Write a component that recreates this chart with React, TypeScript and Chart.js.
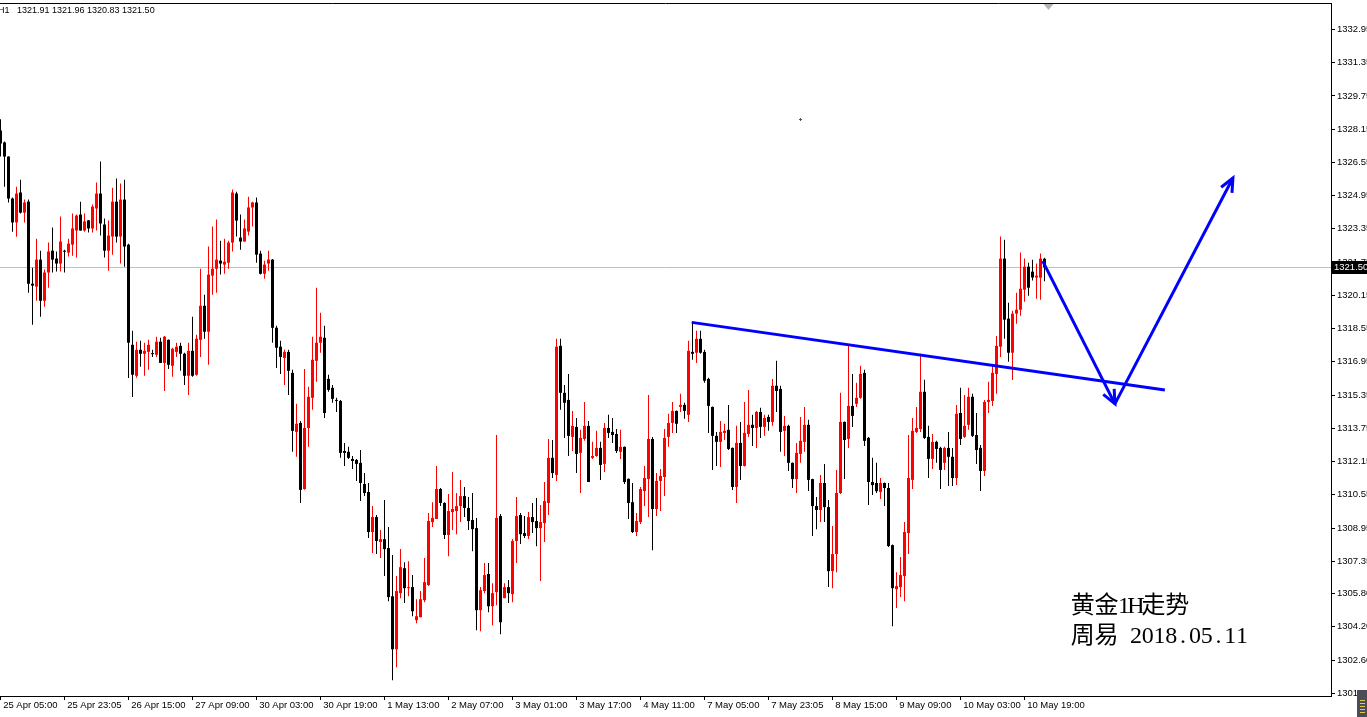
import React, { useEffect, useRef } from 'react';
import { Chart, registerables } from 'chart.js';

Chart.register(...registerables);

// ---- OHLC data (XAUUSD H1), bar index 0 .. 261 ----
const opens = [
  1328.08, 1327.51, 1326.83, 1324.81, 1323.66, 1325.10, 1324.13, 1324.66, 1320.71, 1320.57,
  1321.87, 1319.89, 1321.25, 1322.30, 1321.92, 1321.68, 1322.27, 1322.21, 1322.59, 1323.27,
  1324.04, 1323.27, 1323.76, 1323.37, 1324.33, 1325.05, 1323.56, 1322.30, 1322.98, 1324.66,
  1322.98, 1324.76, 1322.59, 1317.77, 1316.28, 1317.53, 1317.34, 1317.43, 1317.34, 1317.29,
  1317.92, 1316.90, 1318.01, 1316.76, 1317.43, 1317.72, 1317.34, 1316.28, 1317.48, 1316.33,
  1318.01, 1319.65, 1318.40, 1321.10, 1321.43, 1321.82, 1321.63, 1321.72, 1322.69, 1325.05,
  1322.93, 1322.74, 1323.22, 1324.38, 1324.62, 1322.16, 1321.19, 1321.68, 1321.87, 1318.59,
  1317.68, 1317.14, 1317.43, 1316.42, 1313.58, 1314.01, 1310.83, 1313.77, 1315.22, 1317.00,
  1317.87, 1318.11, 1316.13, 1315.70, 1315.12, 1315.07, 1312.66, 1312.62, 1312.28, 1312.23,
  1312.09, 1311.07, 1310.69, 1308.76, 1309.48, 1308.28, 1308.42, 1307.99, 1305.67, 1303.12,
  1305.82, 1307.02, 1306.06, 1306.11, 1304.52, 1304.66, 1305.48, 1306.21, 1309.24, 1309.39,
  1310.83, 1310.16, 1308.62, 1309.72, 1309.77, 1310.01, 1310.49, 1309.92, 1309.34, 1308.95,
  1305.00, 1305.92, 1306.74, 1305.19, 1305.87, 1309.53, 1305.58, 1306.11, 1305.77, 1308.33,
  1309.58, 1308.71, 1308.57, 1309.48, 1309.29, 1308.95, 1309.19, 1310.16, 1312.33, 1311.51,
  1317.72, 1315.46, 1315.12, 1313.34, 1313.82, 1312.57, 1313.24, 1313.87, 1312.33, 1312.42,
  1312.81, 1312.04, 1313.77, 1313.58, 1313.48, 1312.62, 1312.86, 1311.32, 1310.20, 1308.76,
  1309.24, 1310.73, 1311.31, 1313.24, 1309.87, 1311.22, 1311.41, 1313.34, 1314.01, 1314.59,
  1314.78, 1314.88, 1314.40, 1317.43, 1317.39, 1318.06, 1317.43, 1316.13, 1314.78, 1313.39,
  1313.10, 1313.53, 1313.68, 1312.81, 1310.93, 1313.05, 1311.94, 1313.48, 1313.92, 1313.77,
  1314.54, 1313.82, 1314.30, 1314.06, 1315.80, 1315.65, 1313.63, 1313.87, 1312.09, 1311.31,
  1312.52, 1313.10, 1313.92, 1311.31, 1310.01, 1309.82, 1311.12, 1309.96, 1306.88, 1307.70,
  1310.64, 1314.06, 1313.24, 1314.83, 1314.93, 1315.22, 1316.42, 1313.29, 1311.17, 1311.12,
  1310.69, 1311.12, 1310.88, 1308.13, 1306.01, 1306.11, 1306.64, 1308.71, 1311.27, 1313.58,
  1313.72, 1315.51, 1313.34, 1312.28, 1313.10, 1312.81, 1312.09, 1312.81, 1312.38, 1311.36,
  1314.49, 1313.34, 1313.92, 1315.27, 1313.43, 1312.81, 1311.70, 1315.02, 1315.07, 1316.37,
  1317.68, 1321.92, 1319.03, 1317.39, 1319.27, 1319.46, 1320.42, 1321.53, 1321.29, 1321.01,
  1321.00, 1321.91,
];

const highs = [
  1328.62, 1327.55, 1326.85, 1324.86, 1325.38, 1325.72, 1324.76, 1324.76, 1321.48, 1322.88,
  1322.30, 1321.39, 1322.69, 1323.42, 1322.26, 1323.94, 1322.35, 1322.88, 1324.09, 1324.04,
  1324.66, 1324.09, 1323.78, 1324.52, 1325.58, 1326.59, 1323.85, 1323.75, 1325.33, 1325.77,
  1325.53, 1325.72, 1322.64, 1318.45, 1317.92, 1317.97, 1317.87, 1318.01, 1317.53, 1318.16,
  1318.11, 1318.20, 1318.03, 1317.63, 1317.87, 1317.87, 1317.39, 1317.87, 1319.12, 1318.25,
  1321.43, 1320.18, 1322.50, 1323.46, 1323.80, 1322.78, 1322.88, 1322.78, 1325.24, 1325.14,
  1324.04, 1323.80, 1324.90, 1324.66, 1324.86, 1322.30, 1321.82, 1322.30, 1321.90, 1318.69,
  1317.97, 1317.53, 1317.53, 1316.57, 1314.93, 1314.11, 1316.61, 1315.75, 1318.16, 1320.52,
  1319.31, 1318.69, 1316.33, 1315.84, 1315.22, 1315.12, 1313.05, 1312.86, 1312.42, 1312.28,
  1312.71, 1311.60, 1311.12, 1310.01, 1309.58, 1308.86, 1310.30, 1309.00, 1307.65, 1306.64,
  1307.94, 1307.31, 1307.36, 1306.69, 1305.53, 1305.92, 1307.51, 1309.68, 1310.20, 1311.94,
  1310.88, 1310.20, 1310.59, 1311.65, 1310.64, 1311.27, 1310.93, 1310.45, 1310.64, 1309.44,
  1306.11, 1307.27, 1307.27, 1306.30, 1313.43, 1309.63, 1306.30, 1306.45, 1308.42, 1310.45,
  1309.68, 1309.53, 1309.72, 1310.16, 1310.40, 1310.06, 1311.17, 1313.24, 1313.19, 1318.06,
  1318.06, 1315.84, 1316.37, 1314.59, 1314.25, 1313.68, 1315.02, 1314.11, 1313.10, 1313.63,
  1313.10, 1314.01, 1314.40, 1314.25, 1313.72, 1313.68, 1312.88, 1311.34, 1311.12, 1309.68,
  1310.93, 1311.94, 1315.36, 1313.34, 1311.60, 1311.80, 1313.72, 1314.45, 1315.02, 1314.61,
  1315.41, 1314.98, 1317.97, 1318.88, 1318.45, 1318.45, 1317.53, 1316.18, 1314.80, 1313.58,
  1314.11, 1313.97, 1314.88, 1312.83, 1313.87, 1314.06, 1315.02, 1315.60, 1314.40, 1314.59,
  1314.74, 1314.40, 1314.40, 1316.13, 1317.00, 1315.80, 1314.35, 1313.92, 1312.11, 1313.05,
  1314.30, 1314.78, 1314.16, 1311.33, 1310.45, 1311.51, 1312.04, 1310.30, 1309.05, 1311.75,
  1315.46, 1314.08, 1317.77, 1316.37, 1315.94, 1316.76, 1316.57, 1313.34, 1312.33, 1312.09,
  1311.36, 1311.14, 1311.12, 1308.16, 1306.83, 1307.56, 1309.24, 1313.43, 1314.25, 1314.78,
  1317.34, 1316.09, 1313.87, 1313.48, 1313.15, 1312.86, 1312.86, 1313.58, 1312.81, 1314.88,
  1315.70, 1315.36, 1315.70, 1315.41, 1314.49, 1312.95, 1315.12, 1315.99, 1316.81, 1318.20,
  1322.98, 1322.83, 1319.80, 1319.41, 1320.28, 1322.21, 1321.92, 1321.72, 1321.87, 1321.68,
  1322.16, 1321.96,
];

const lows = [
  1326.83, 1325.38, 1324.62, 1323.21, 1322.97, 1324.09, 1323.66, 1320.28, 1318.74, 1319.89,
  1319.12, 1319.60, 1320.52, 1321.25, 1321.30, 1321.30, 1321.25, 1322.02, 1322.06, 1321.97,
  1323.27, 1323.21, 1323.17, 1323.17, 1323.27, 1323.03, 1321.97, 1321.34, 1322.11, 1322.69,
  1321.68, 1321.53, 1316.17, 1315.26, 1316.18, 1316.71, 1316.28, 1316.57, 1317.19, 1317.19,
  1316.90, 1315.55, 1316.61, 1316.23, 1317.19, 1316.52, 1315.84, 1315.36, 1316.23, 1316.28,
  1317.19, 1318.06, 1316.81, 1320.18, 1320.28, 1321.15, 1321.19, 1321.43, 1322.26, 1322.98,
  1322.35, 1322.74, 1323.03, 1323.46, 1321.72, 1321.15, 1320.95, 1321.34, 1317.87, 1316.66,
  1316.37, 1315.84, 1315.36, 1312.62, 1312.38, 1310.16, 1310.79, 1312.86, 1314.64, 1315.99,
  1317.39, 1314.25, 1315.51, 1314.98, 1314.54, 1312.33, 1311.94, 1312.28, 1311.80, 1311.22,
  1310.25, 1310.49, 1308.47, 1307.75, 1307.70, 1307.51, 1306.64, 1305.43, 1301.63, 1302.25,
  1305.58, 1305.34, 1305.67, 1304.71, 1304.37, 1304.66, 1305.38, 1306.16, 1309.00, 1309.39,
  1310.01, 1308.42, 1307.60, 1308.86, 1308.66, 1309.24, 1309.48, 1308.86, 1307.84, 1304.04,
  1303.99, 1305.82, 1304.90, 1304.28, 1305.24, 1303.84, 1305.58, 1305.34, 1305.38, 1307.27,
  1308.18, 1308.47, 1308.42, 1308.71, 1308.08, 1306.40, 1308.28, 1309.58, 1311.36, 1311.22,
  1314.64, 1313.29, 1312.42, 1312.66, 1311.60, 1310.64, 1313.15, 1311.17, 1312.28, 1312.38,
  1311.27, 1311.65, 1313.29, 1313.05, 1312.57, 1312.28, 1311.07, 1309.39, 1308.71, 1308.57,
  1309.15, 1310.01, 1309.48, 1307.89, 1309.53, 1309.77, 1310.49, 1312.86, 1313.53, 1313.53,
  1314.54, 1314.21, 1314.06, 1317.05, 1316.90, 1317.34, 1315.94, 1313.53, 1311.75, 1311.94,
  1311.89, 1313.19, 1312.71, 1310.78, 1310.16, 1311.27, 1311.92, 1313.34, 1312.90, 1312.81,
  1313.29, 1313.39, 1313.63, 1313.87, 1314.54, 1312.62, 1312.42, 1311.70, 1310.88, 1310.64,
  1312.09, 1312.62, 1310.73, 1308.57, 1308.90, 1309.24, 1309.24, 1306.11, 1306.06, 1306.83,
  1310.59, 1311.31, 1312.81, 1313.82, 1314.78, 1315.17, 1312.90, 1310.06, 1310.54, 1310.64,
  1310.35, 1310.01, 1308.04, 1304.23, 1305.10, 1305.63, 1305.43, 1307.70, 1310.83, 1313.53,
  1313.58, 1313.24, 1311.36, 1311.80, 1312.09, 1310.83, 1311.75, 1310.98, 1310.98, 1311.02,
  1312.95, 1313.29, 1313.68, 1313.34, 1312.04, 1310.73, 1311.46, 1314.49, 1314.83, 1315.41,
  1317.19, 1318.06, 1316.95, 1316.08, 1318.78, 1319.17, 1319.84, 1320.13, 1320.86, 1319.99,
  1319.94, 1320.83,
];

const closes = [
  1327.46, 1326.83, 1324.81, 1323.66, 1325.05, 1324.13, 1324.62, 1320.71, 1320.62, 1321.87,
  1319.89, 1321.25, 1322.26, 1321.87, 1321.68, 1322.74, 1322.25, 1322.64, 1323.37, 1323.99,
  1323.27, 1323.71, 1323.37, 1324.42, 1325.05, 1323.61, 1322.30, 1323.03, 1324.66, 1322.98,
  1324.76, 1322.50, 1317.87, 1316.33, 1317.53, 1317.34, 1317.48, 1317.77, 1317.32, 1317.92,
  1316.90, 1318.16, 1316.81, 1317.58, 1317.68, 1317.34, 1316.28, 1317.48, 1316.28, 1318.06,
  1319.65, 1318.40, 1321.15, 1321.43, 1321.87, 1321.68, 1321.77, 1322.69, 1325.10, 1323.75,
  1322.74, 1323.37, 1324.38, 1324.62, 1322.11, 1321.19, 1321.63, 1321.87, 1318.59, 1317.63,
  1317.19, 1317.43, 1316.52, 1313.63, 1313.97, 1310.79, 1313.77, 1315.27, 1317.05, 1317.87,
  1318.16, 1314.49, 1315.60, 1315.17, 1315.07, 1312.57, 1312.57, 1312.33, 1312.18, 1312.04,
  1311.12, 1310.64, 1308.76, 1309.48, 1308.33, 1308.42, 1307.94, 1305.63, 1303.12, 1305.92,
  1307.07, 1306.06, 1306.11, 1304.95, 1304.71, 1305.53, 1306.35, 1309.29, 1309.44, 1310.83,
  1310.16, 1308.62, 1309.77, 1309.87, 1310.01, 1310.49, 1309.92, 1309.29, 1308.90, 1305.00,
  1305.96, 1306.69, 1305.19, 1305.82, 1309.44, 1304.42, 1306.11, 1305.82, 1308.33, 1309.53,
  1308.66, 1308.57, 1309.48, 1309.24, 1308.95, 1309.24, 1310.25, 1312.33, 1311.60, 1317.68,
  1315.46, 1314.98, 1313.39, 1313.87, 1312.52, 1313.29, 1313.87, 1311.17, 1312.42, 1312.81,
  1311.99, 1313.77, 1313.53, 1313.43, 1312.66, 1312.86, 1311.17, 1310.16, 1308.76, 1309.29,
  1310.83, 1311.36, 1313.24, 1309.87, 1311.22, 1311.46, 1313.29, 1314.01, 1314.59, 1313.97,
  1314.88, 1314.59, 1317.48, 1317.34, 1318.06, 1317.39, 1316.04, 1314.83, 1313.39, 1313.10,
  1313.58, 1313.63, 1312.76, 1310.93, 1313.05, 1311.94, 1313.53, 1313.92, 1313.77, 1314.54,
  1313.82, 1314.25, 1314.06, 1315.80, 1315.55, 1313.58, 1313.87, 1312.09, 1311.31, 1312.57,
  1313.15, 1313.92, 1311.27, 1310.01, 1309.82, 1311.12, 1309.96, 1306.88, 1307.70, 1310.64,
  1314.06, 1313.19, 1314.83, 1314.35, 1315.22, 1316.37, 1313.15, 1311.17, 1311.02, 1310.73,
  1311.12, 1310.88, 1308.09, 1306.06, 1306.16, 1306.69, 1308.76, 1311.36, 1313.63, 1313.77,
  1315.51, 1313.29, 1312.28, 1313.10, 1312.76, 1311.75, 1312.81, 1312.38, 1311.36, 1314.45,
  1313.24, 1313.87, 1315.27, 1313.39, 1312.71, 1311.70, 1315.02, 1315.12, 1316.42, 1317.72,
  1321.92, 1318.98, 1317.39, 1319.27, 1319.46, 1320.47, 1321.53, 1320.52, 1321.01, 1321.10,
  1321.92, 1321.50,
];

// ---- axis labels ----
const timeLabels = [
  '25 Apr 05:00', '25 Apr 23:05', '26 Apr 15:00', '27 Apr 09:00', '30 Apr 03:00', '30 Apr 19:00',
  '1 May 13:00', '2 May 07:00', '3 May 01:00', '3 May 17:00', '4 May 11:00', '7 May 05:00',
  '7 May 23:05', '8 May 15:00', '9 May 09:00', '10 May 03:00', '10 May 19:00',
];
const timeLabelBars = [0, 16, 32, 48, 64, 80, 96, 112, 128, 144, 160, 176, 192, 208, 224, 240, 256];

const priceTicks = [
  1332.95, 1331.35, 1329.75, 1328.15, 1326.55, 1324.95, 1323.35, 1321.75, 1320.15, 1318.55,
  1316.95, 1315.35, 1313.75, 1312.15, 1310.55, 1308.95, 1307.35, 1305.80, 1304.20, 1302.60, 1301.00,
];
const priceTickLabels = [
  '1332.95', '1331.35', '1329.75', '1328.15', '1326.55', '1324.95', '1323.35', '1321.75', '1320.15', '1318.55',
  '1316.95', '1315.35', '1313.75', '1312.15', '1310.55', '1308.95', '1307.35', '1305.80', '1304.20', '1302.60', '1301.00',
];

const bidPrice = 1321.5;
const bidLabel = '1321.50';
const headerSymbol = 'H1';
const headerValues = '1321.91 1321.96 1320.83 1321.50';
const noteLine1 = '黄金1H走势';
const noteLine2 = '周易 2018.05.11';

// drawn objects in (bar index, price)
const trendLine = [[172.8, 1318.85], [291.1, 1315.6]];
const arrowPath = [[260.55, 1321.8], [278.6, 1314.93], [308.1, 1325.8]];
const dotMark = [199.9, 1328.64];
const shiftMarkBar = 262;

const UP = '#ff0000';
const DOWN = '#000000';

function arrowHead(ctx: CanvasRenderingContext2D, fx: number, fy: number, tx: number, ty: number) {
  const a = Math.atan2(ty - fy, tx - fx);
  const len = 15;
  const ang = 0.42;
  ctx.beginPath();
  ctx.moveTo(tx - len * Math.cos(a - ang), ty - len * Math.sin(a - ang));
  ctx.lineTo(tx, ty);
  ctx.lineTo(tx - len * Math.cos(a + ang), ty - len * Math.sin(a + ang));
  ctx.stroke();
}

// SimSun-like cell layout: full-width cells for CJK, half-width cells for ASCII
function drawCellText(ctx: CanvasRenderingContext2D, text: string, x: number, y: number, size: number) {
  let cx = x;
  ctx.textAlign = 'center';
  for (const ch of Array.from(text)) {
    const wide = ch.charCodeAt(0) > 0x2e7f;
    const adv = wide ? size : size / 2;
    if (ch !== ' ') ctx.fillText(ch, cx + adv / 2, y);
    cx += adv;
  }
  ctx.textAlign = 'left';
}

const overlayPlugin = {
  id: 'mtOverlay',
  beforeDatasetsDraw(chart: any) {
    const { ctx, chartArea, scales } = chart;
    const py = Math.round(scales.y.getPixelForValue(bidPrice)) + 0.5;
    ctx.save();
    ctx.strokeStyle = '#c0c0c0';
    ctx.lineWidth = 1;
    ctx.beginPath();
    ctx.moveTo(chartArea.left, py);
    ctx.lineTo(chartArea.right, py);
    ctx.stroke();
    ctx.restore();
  },
  afterDatasetsDraw(chart: any) {
    const { ctx, scales } = chart;
    const X = (v: number) => scales.x.getPixelForValue(v);
    const Y = (v: number) => scales.y.getPixelForValue(v);
    ctx.save();
    ctx.strokeStyle = '#0000ff';
    ctx.lineWidth = 3;
    ctx.lineCap = 'butt';
    ctx.lineJoin = 'miter';
    ctx.beginPath();
    ctx.moveTo(X(trendLine[0][0]), Y(trendLine[0][1]));
    ctx.lineTo(X(trendLine[1][0]), Y(trendLine[1][1]));
    ctx.stroke();
    const pts = arrowPath.map(([i, p]) => [X(i), Y(p)]);
    ctx.beginPath();
    ctx.moveTo(pts[0][0], pts[0][1]);
    ctx.lineTo(pts[1][0], pts[1][1]);
    ctx.stroke();
    ctx.beginPath();
    ctx.moveTo(pts[1][0], pts[1][1]);
    ctx.lineTo(pts[2][0], pts[2][1]);
    ctx.stroke();
    arrowHead(ctx, pts[0][0], pts[0][1], pts[1][0], pts[1][1]);
    arrowHead(ctx, pts[1][0], pts[1][1], pts[2][0], pts[2][1]);
    ctx.restore();
  },
  afterDraw(chart: any) {
    const { ctx, chartArea, scales, width } = chart;
    ctx.save();
    // top frame line
    ctx.strokeStyle = '#000';
    ctx.lineWidth = 1;
    ctx.beginPath();
    ctx.moveTo(chartArea.left, chartArea.top + 0.5);
    ctx.lineTo(chartArea.right, chartArea.top + 0.5);
    ctx.stroke();

    // bid price label
    const py = Math.round(scales.y.getPixelForValue(bidPrice));
    ctx.fillStyle = '#000';
    ctx.fillRect(chartArea.right + 1, py - 6, width - chartArea.right, 13);
    ctx.fillStyle = '#fff';
    ctx.font = '9.5px "Liberation Sans", Arial, sans-serif';
    ctx.textBaseline = 'middle';
    ctx.textAlign = 'left';
    ctx.fillText(bidLabel, chartArea.right + 3, py + 0.5);

    // header text
    ctx.fillStyle = '#000';
    ctx.font = '9px "Liberation Sans", Arial, sans-serif';
    ctx.fillText(headerSymbol, chartArea.left - 2, 11);
    ctx.fillText(headerValues, chartArea.left + 17, 11);

    // notes
    ctx.font = '24px "Liberation Serif", "Noto Sans CJK SC", serif';
    ctx.textBaseline = 'alphabetic';
    drawCellText(ctx, noteLine1, 1071, 613, 23.6);
    drawCellText(ctx, noteLine2, 1071, 643, 23.6);

    // small dot
    const dx = Math.round(scales.x.getPixelForValue(dotMark[0]));
    const dy = Math.round(scales.y.getPixelForValue(dotMark[1]));
    ctx.fillStyle = '#555';
    ctx.fillRect(dx - 1, dy, 3, 1);
    ctx.fillRect(dx, dy - 1, 1, 3);

    // chart shift marker
    const sx = scales.x.getPixelForValue(shiftMarkBar);
    ctx.fillStyle = '#b4b4b4';
    ctx.beginPath();
    ctx.moveTo(sx - 5, chartArea.top + 1);
    ctx.lineTo(sx + 5, chartArea.top + 1);
    ctx.lineTo(sx, chartArea.top + 7);
    ctx.closePath();
    ctx.fill();

    // corner widget
    ctx.fillStyle = '#4a4f57';
    ctx.fillRect(1357, 690, 10, 27);
    ctx.fillStyle = '#e8c84a';
    for (let k = 0; k < 5; k++) ctx.fillRect(1360, 700 + k * 3, 5, 1);
    ctx.restore();
  },
};

export default function App() {
  const ref = useRef<HTMLCanvasElement>(null);

  useEffect(() => {
    const n = opens.length;
    const idx = Array.from({ length: n }, (_, i) => i);
    const colors = idx.map((i) => (closes[i] > opens[i] ? UP : DOWN));
    const bodies = idx.map((i) => ({ x: i, y: [opens[i], closes[i]] }));
    const wicks = idx.map((i) => ({ x: i, y: [lows[i], highs[i]] }));

    const tickFont = { family: '"Liberation Sans", Arial, sans-serif', size: 9.5 };

    const chart = new Chart(ref.current as HTMLCanvasElement, {
      type: 'bar',
      data: {
        datasets: [
          {
            label: 'body',
            data: bodies as any,
            backgroundColor: colors,
            borderWidth: 0,
            grouped: false,
            categoryPercentage: 1,
            barPercentage: 0.75,
            minBarLength: 1,
            inflateAmount: 0,
          } as any,
          {
            label: 'wick',
            data: wicks as any,
            backgroundColor: colors,
            borderWidth: 0,
            grouped: false,
            categoryPercentage: 1,
            barPercentage: 0.25,
            minBarLength: 1,
            inflateAmount: 0,
          } as any,
        ],
      },
      options: {
        responsive: false,
        animation: false,
        events: [],
        devicePixelRatio: 1,
        layout: { padding: { top: 3, left: 0, right: 0, bottom: 0 } },
        plugins: { legend: { display: false }, tooltip: { enabled: false } },
        scales: {
          x: {
            type: 'linear',
            position: 'bottom',
            offset: false,
            min: -0.125,
            max: 332.625,
            afterFit: (s: any) => { s.height = 21; s.paddingLeft = 0; s.paddingRight = 0; },
            afterBuildTicks: (s: any) => { s.ticks = timeLabelBars.map((v) => ({ value: v })); },
            grid: { offset: false, drawOnChartArea: false, drawTicks: true, tickLength: 4, color: '#000' },
            border: { display: true, color: '#000', width: 1 },
            ticks: {
              autoSkip: false,
              maxRotation: 0,
              minRotation: 0,
              align: 'start',
              padding: 0,
              color: '#000',
              font: tickFont,
              callback: (v: any) => {
                const k = timeLabelBars.indexOf(Number(v));
                return k >= 0 ? ' ' + timeLabels[k] : '';
              },
            },
          } as any,
          y: {
            type: 'linear',
            position: 'right',
            offset: false,
            min: 1300.87,
            max: 1334.22,
            afterFit: (s: any) => { s.width = 36; s.paddingTop = 0; s.paddingBottom = 0; },
            afterBuildTicks: (s: any) => { s.ticks = priceTicks.map((v) => ({ value: v })); },
            grid: { offset: false, drawOnChartArea: false, drawTicks: true, tickLength: 4, color: '#000' },
            border: { display: true, color: '#000', width: 1 },
            ticks: {
              autoSkip: false,
              padding: 2,
              color: '#000',
              font: tickFont,
              callback: (v: any) => {
                const k = priceTicks.indexOf(Number(v));
                return k >= 0 ? priceTickLabels[k] : '';
              },
            },
          } as any,
        },
      },
      plugins: [overlayPlugin],
    });
    return () => chart.destroy();
  }, []);

  return (
    <div style={{ position: 'fixed', left: 0, top: 0, width: 1367, height: 717, background: '#fff' }}>
      <canvas ref={ref} width={1367} height={717} style={{ display: 'block', width: 1367, height: 717 }} />
    </div>
  );
}
